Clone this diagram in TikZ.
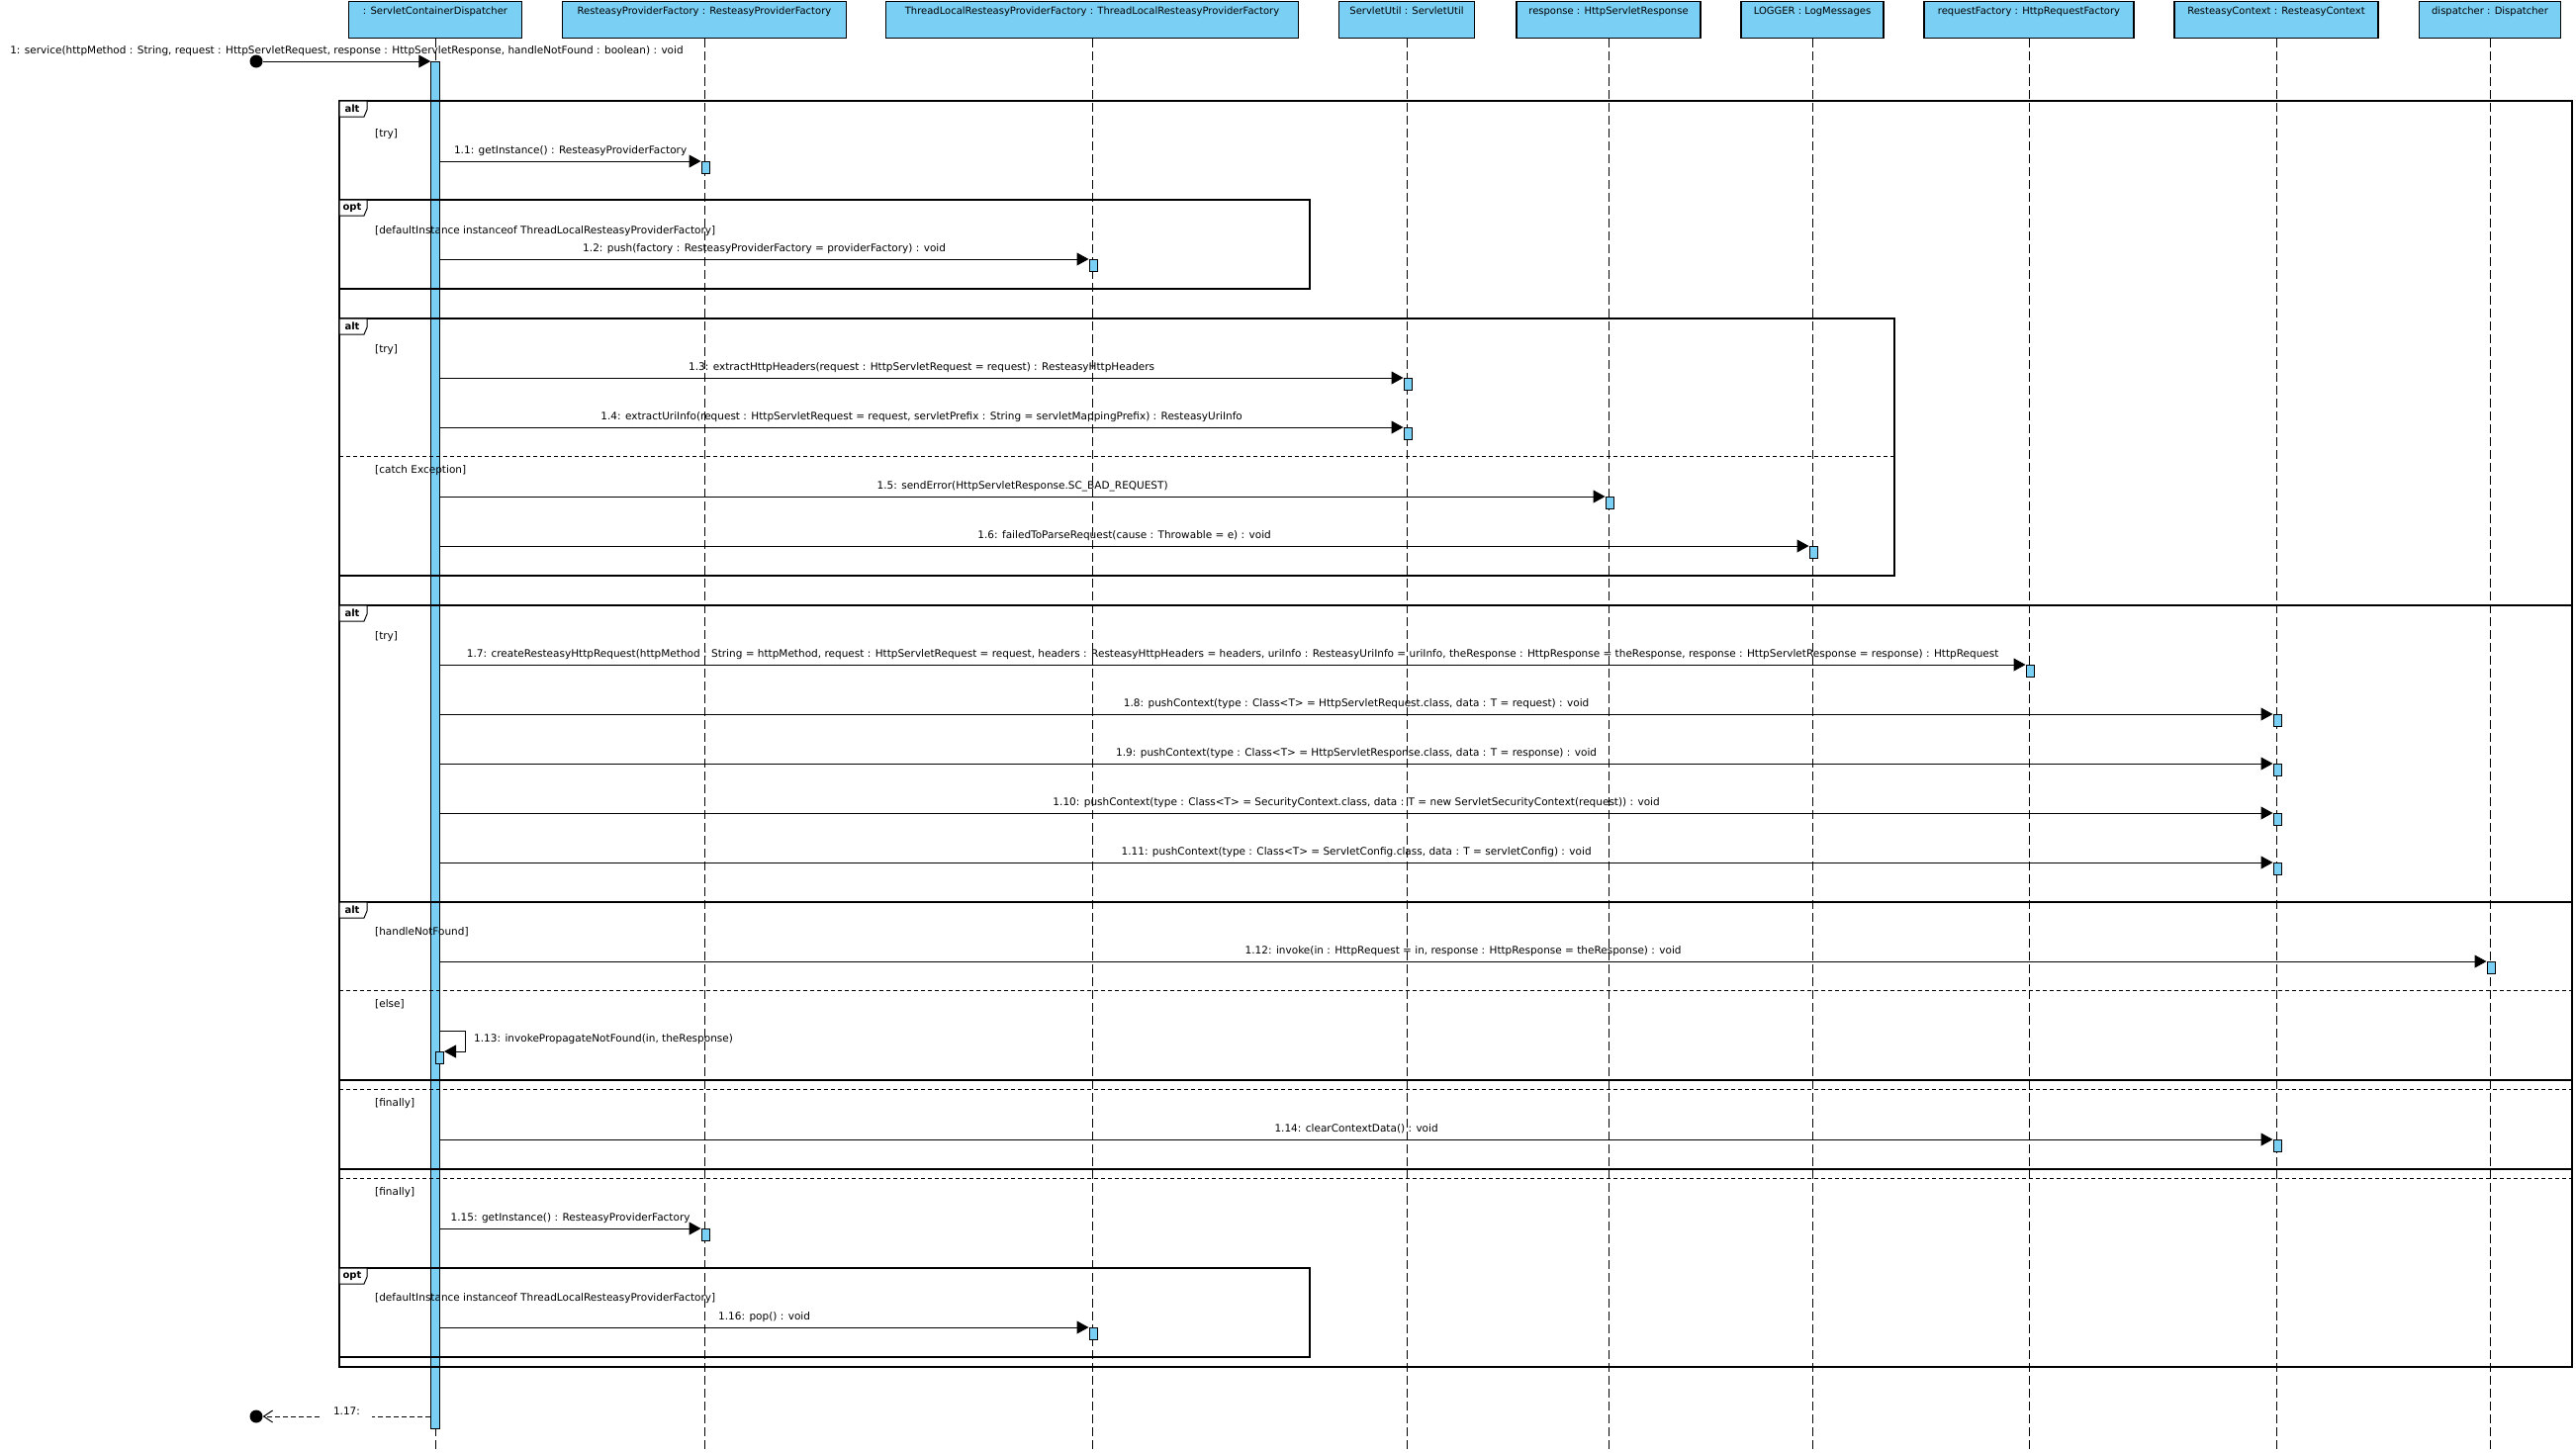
\documentclass[tikz,border=0pt]{standalone}
\usepackage{fontspec}
\setmainfont{DejaVu Sans}
\usetikzlibrary{arrows.meta,positioning}
\definecolor{lifeblue}{RGB}{122,207,245}
\tikzset{
  head/.style={draw, fill=lifeblue, line width=1.2pt, inner xsep=0pt, inner ysep=2pt, text height=11pt, text depth=22pt, anchor=north, font=\fontsize{10}{12}\selectfont},
  lifeline/.style={line width=1pt, dash pattern=on 9pt off 4pt},
  bar/.style={draw, fill=lifeblue, line width=1pt, minimum width=8.5pt, inner sep=0pt, anchor=north},
  act/.style={draw, fill=lifeblue, line width=1pt, minimum width=8pt, minimum height=12pt, inner sep=0pt},
  msg/.style={-{Triangle[length=12pt,width=13pt]}, line width=1pt},
  ret/.style={-{Straight Barb[length=9pt,width=12pt]}, line width=1pt, dash pattern=on 5pt off 3pt},
  lbl/.style={font=\fontsize{10.5}{12}\selectfont, anchor=base, yshift=8pt, inner sep=0pt},
  guard/.style={font=\fontsize{10.5}{12}\selectfont, anchor=base west, inner sep=0pt},
  frame/.style={line width=1.2pt},
  sep/.style={line width=1pt, dash pattern=on 4pt off 3pt},
  tag/.style={draw, fill=white, line width=1pt},
  tagtext/.style={font=\bfseries\fontsize{10}{12}\selectfont, inner sep=0pt},
  dot/.style={circle, fill=black, minimum size=13pt, inner sep=0pt}
}

\begin{document}
\begin{tikzpicture}[x=1pt,y=-1pt]
  \useasboundingbox (0,0) rectangle (2604,1468);

  % Lifelines
  \foreach \name/\x/\w/\txt in {disp/440/175/{: ServletContainerDispatcher},
      rpf/712/287/{ResteasyProviderFactory : ResteasyProviderFactory},
      tlrpf/1104/417/{ThreadLocalResteasyProviderFactory : ThreadLocalResteasyProviderFactory},
      su/1422/137/{ServletUtil : ServletUtil},
      resp/1626/186/{response : HttpServletResponse},
      logger/1832/144/{LOGGER : LogMessages},
      rf/2051/212/{requestFactory : HttpRequestFactory},
      rc/2301/206/{ResteasyContext : ResteasyContext},
      dsp/2517/143/{dispatcher : Dispatcher}} {
    \node[head, minimum width=\w pt] (\name) at (\x,1) {\txt};
    \draw[lifeline] (\name.south) -- (\name.south |- 0,1468);
  }
  \node[bar, minimum height=1382pt] (bar) at (disp.south |- 0,62) {};

  % Frames
  \foreach \kind/\top/\right/\bottom in {alt/102/2600/1382, opt/202/1324/292,
      alt/322/1915/582, alt/612/2600/1182, alt/912/2600/1092, opt/1282/1324/1372} {
    \draw[frame] (343,\top) rectangle (\right,\bottom);
    \draw[tag] (343,\top) -- (371,\top) -- (371,\top+9) -- (368,\top+16) -- (343,\top+16) -- cycle;
    \node[tagtext] (t\top) at (356,\top+8) {\kind};
  }
  \draw[sep] (343,461) -- (1915,461);
  \draw[sep] (343,1001) -- (2600,1001);
  \draw[sep] (343,1101) -- (2600,1101);
  \draw[sep] (343,1191) -- (2600,1191);
  \foreach \y/\txt in {134/{[try]}, 232/{[defaultInstance instanceof ThreadLocalResteasyProviderFactory]},
      352/{[try]}, 474/{[catch Exception]}, 642/{[try]}, 941/{[handleNotFound]},
      1014/{[else]}, 1114/{[finally]}, 1204/{[finally]},
      1311/{[defaultInstance instanceof ThreadLocalResteasyProviderFactory]}} {
    \node[guard] (g\y) at (379,\y+4) {\txt};
  }

  % Messages
  \node[dot] (start) at (259,62) {};
  \draw[msg] (start) -- (bar.west |- start)
    node[lbl, midway] {1: service(httpMethod : String, request : HttpServletRequest, response : HttpServletResponse, handleNotFound : boolean) : void};

  \foreach \n/\to/\y/\txt in {11/rpf/163/{1.1: getInstance() : ResteasyProviderFactory},
      12/tlrpf/262/{1.2: push(factory : ResteasyProviderFactory = providerFactory) : void},
      13/su/382/{1.3: extractHttpHeaders(request : HttpServletRequest = request) : ResteasyHttpHeaders},
      14/su/432/{1.4: extractUriInfo(request : HttpServletRequest = request, servletPrefix : String = servletMappingPrefix) : ResteasyUriInfo},
      15/resp/502/{1.5: sendError(HttpServletResponse.SC\_BAD\_REQUEST)},
      16/logger/552/{1.6: failedToParseRequest(cause : Throwable = e) : void},
      17/rf/672/{1.7: createResteasyHttpRequest(httpMethod : String = httpMethod, request : HttpServletRequest = request, headers : ResteasyHttpHeaders = headers, uriInfo : ResteasyUriInfo = uriInfo, theResponse : HttpResponse = theResponse, response : HttpServletResponse = response) : HttpRequest},
      18/rc/722/{1.8: pushContext(type : Class<T> = HttpServletRequest.class, data : T = request) : void},
      19/rc/772/{1.9: pushContext(type : Class<T> = HttpServletResponse.class, data : T = response) : void},
      110/rc/822/{1.10: pushContext(type : Class<T> = SecurityContext.class, data : T = new ServletSecurityContext(request)) : void},
      111/rc/872/{1.11: pushContext(type : Class<T> = ServletConfig.class, data : T = servletConfig) : void},
      112/dsp/972/{1.12: invoke(in : HttpRequest = in, response : HttpResponse = theResponse) : void},
      114/rc/1152/{1.14: clearContextData() : void},
      115/rpf/1242/{1.15: getInstance() : ResteasyProviderFactory},
      116/tlrpf/1342/{1.16: pop() : void}} {
    \node[act, anchor=north, xshift=1pt] (a\n) at (\to.south |- 0,\y) {};
    \draw[msg] (bar.east |- a\n.north) -- (a\n.north west) node[lbl, midway] {\txt};
  }

  % self call
  \node[act, anchor=north west] (a113) at (440,1063) {};
  \draw[msg] (bar.east |- 0,1042) -- (470,1042) -- (470,1063) -- (a113.north east);
  \node[guard] (l113) at (479,1053) {1.13: invokePropagateNotFound(in, theResponse)};

  % return
  \node[dot] (caller) at (259,1432) {};
  \draw[ret] (bar.west |- caller) -- (caller.east)
    node[midway, font=\fontsize{10.5}{12}\selectfont, fill=white, anchor=base, inner xsep=12pt, inner ysep=3pt, yshift=1.5pt] (l117) {1.17:};
\end{tikzpicture}
\end{document}
